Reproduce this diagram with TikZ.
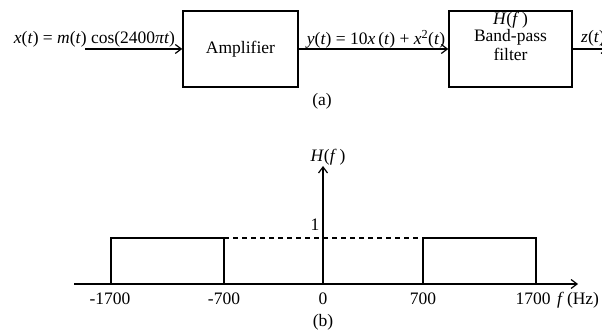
\documentclass[tikz,border=0pt]{standalone}
\usepackage{fontspec}
\setmainfont{Liberation Serif}
\usetikzlibrary{arrows.meta}
\newcommand\vi[1]{\textit{#1}}
\begin{document}
\begin{tikzpicture}[x=1pt,y=-1pt,
  lbl/.style={inner sep=0pt, font=\fontsize{17.5}{17}\selectfont},
  blk/.style={draw, line width=1.5pt, inner sep=0pt, font=\fontsize{17.5}{17}\selectfont},
  arr/.style={-{Straight Barb[length=6pt,width=9pt]}, line width=1.2pt},
  plotline/.style={line width=1.4pt}]
\fill[white] (0,0) rectangle (602,331);
\useasboundingbox (0,0) rectangle (602,331);
% (a) block diagram
\node[blk, minimum width=115pt, minimum height=76pt] (amp) at (240.5,49) {Amplifier};
\node[blk, minimum width=123pt, minimum height=76pt] (filt) at (510.5,49) {};
\node[lbl] (hf) at (510.5,20) {\vi{H}(\vi{f}\,)};
\node[lbl] (bp) at (510.5,37) {Band-pass};
\node[lbl] (fi) at (510.5,54) {filter};
\coordinate (in) at (85,49);
\coordinate (out) at (608,49);
\draw[arr] (in) -- (amp.west);
\draw[arr] (amp.east) -- (filt.west);
\draw[arr] (filt.east) -- (out);
\node[lbl] (xl) at (94.5,39) {\vi{x}(\vi{t}) = \vi{m}(\vi{t}) cos(2400\vi{πt})};
\node[lbl] (yl) at (376,39) {\vi{y}(\vi{t}) = 10\vi{x}\,(\vi{t}) + \vi{x}\textsuperscript{2}(\vi{t})};
\node[lbl, anchor=west] (zl) at (581,38) {\vi{z}(\vi{t})};
\node[lbl] (la) at (322,101) {(a)};
% (b) spectrum
\coordinate (axl) at (74,284);
\coordinate (axr) at (578,284);
\coordinate (org) at (323,284);
\coordinate (ayt) at (323,166);
\draw[arr] (axl) -- (axr);
\draw[arr] (org) -- (ayt);
\draw[plotline] (111,284) |- (224,238) -- (224,284);
\draw[plotline] (423,284) |- (536,238) -- (536,284);
\draw[dashed, line width=1.1pt, dash pattern=on 5pt off 4pt] (224,238) -- (423,238);
\node[lbl] (hl) at (328,157) {\vi{H}(\vi{f}\,)};
\node[lbl] (one) at (315,225) {1};
\node[lbl] (t1) at (110,299) {-1700};
\node[lbl] (t2) at (224,299) {-700};
\node[lbl] (t3) at (323,299) {0};
\node[lbl] (t4) at (423,299) {700};
\node[lbl] (t5) at (533,299) {1700};
\node[lbl, anchor=west] (fl) at (557,300) {\vi{f}\,(Hz)};
\node[lbl] (lb) at (323,322) {(b)};
\end{tikzpicture}
\end{document}
